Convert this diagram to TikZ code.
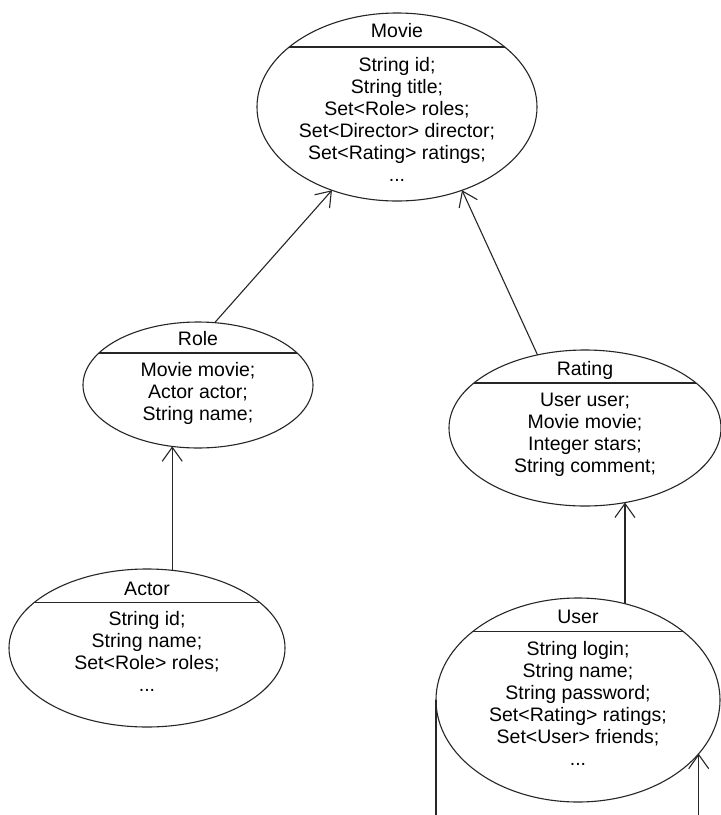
\documentclass[tikz,border=0pt]{standalone}
\usepackage{fontspec}
\setmainfont{Liberation Sans}
\usetikzlibrary{shapes.geometric,arrows.meta}

% one centred column, baseline on the first row
\newcommand\classlines[1]{{\setlength\tabcolsep{0pt}\begin{tabular}[t]{c}#1\end{tabular}}}

\tikzset{
  classshape/.style={draw=black!85, line width=1.1pt, ellipse, inner sep=0pt, outer sep=0pt},
  classtitle/.style={anchor=base, inner sep=0pt, font=\fontsize{19.5}{22}\selectfont},
  classbody/.style={anchor=base, inner sep=0pt, font=\fontsize{19.5}{22}\selectfont},
  sepline/.style={draw=black!85, line width=1.1pt},
  assoc/.style={draw=black!85, line width=1.1pt, -{Straight Barb[length=14pt,width=20pt]}},
  plainlink/.style={draw=black!85, line width=1.1pt},
}

\begin{document}
\begin{tikzpicture}[x=1pt, y=-1pt]
\useasboundingbox[fill=white] (0,0) rectangle (721,815);
\coordinate (pagebottom) at (0,818);

% ---- Movie ----
\node[classshape, minimum width=280pt, minimum height=188pt] (movie) at (397,107) {};
\begin{scope}
  \clip (movie.center) ellipse [x radius=140pt, y radius=94pt];
  \draw[sepline] (250,47) -- (545,47);
\end{scope}
\node[classtitle] (movieTitle) at (397,37) {Movie};
\node[classbody] (movieBody) at (397,71) {\classlines{String id;\\ String title;\\ Set<Role> roles;\\ Set<Director> director;\\ Set<Rating> ratings;\\ ...}};

% ---- Role ----
\node[classshape, minimum width=230pt, minimum height=126pt] (role) at (198,385) {};
\begin{scope}
  \clip (role.center) ellipse [x radius=115pt, y radius=63pt];
  \draw[sepline] (80,353) -- (320,353);
\end{scope}
\node[classtitle] (roleTitle) at (198,345) {Role};
\node[classbody] (roleBody) at (198,376) {\classlines{Movie movie;\\ Actor actor;\\ String name;}};

% ---- Rating ----
\node[classshape, minimum width=272pt, minimum height=156pt] (rating) at (585,428) {};
\begin{scope}
  \clip (rating.center) ellipse [x radius=136pt, y radius=78pt];
  \draw[sepline] (440,383) -- (730,383);
\end{scope}
\node[classtitle] (ratingTitle) at (585,375) {Rating};
\node[classbody] (ratingBody) at (585,406.5) {\classlines{User user;\\ Movie movie;\\ Integer stars;\\ String comment;}};

% ---- Actor ----
\node[classshape, minimum width=276pt, minimum height=158pt] (actor) at (147,648) {};
\begin{scope}
  \clip (actor.center) ellipse [x radius=138pt, y radius=79pt];
  \draw[sepline] (0,602.5) -- (300,602.5);
\end{scope}
\node[classtitle] (actorTitle) at (147,595) {Actor};
\node[classbody] (actorBody) at (147,625.5) {\classlines{String id;\\ String name;\\ Set<Role> roles;\\ ...}};

% ---- User ----
\node[classshape, minimum width=284pt, minimum height=204pt] (user) at (578,700) {};
\begin{scope}
  \clip (user.center) ellipse [x radius=142pt, y radius=102pt];
  \draw[sepline] (420,631.5) -- (730,631.5);
\end{scope}
\node[classtitle] (userTitle) at (578,623) {User};
\node[classbody] (userBody) at (578,655) {\classlines{String login;\\ String name;\\ String password;\\ Set<Rating> ratings;\\ Set<User> friends;\\ ...}};

% ---- associations ----
\draw[assoc] (role.75) -- (movie.232);
\draw[assoc] (rating.123) -- (movie.308);
\draw[assoc] (actor.72) -- (actor.72 |- role.247);
\draw[assoc] (user.64) -- (user.64 |- rating.298);
% self association of User, running off the lower edge
\draw[plainlink] (user.west) -- (user.west |- pagebottom);
\draw[assoc] (user.336 |- pagebottom) -- (user.336);
\end{tikzpicture}
\end{document}
